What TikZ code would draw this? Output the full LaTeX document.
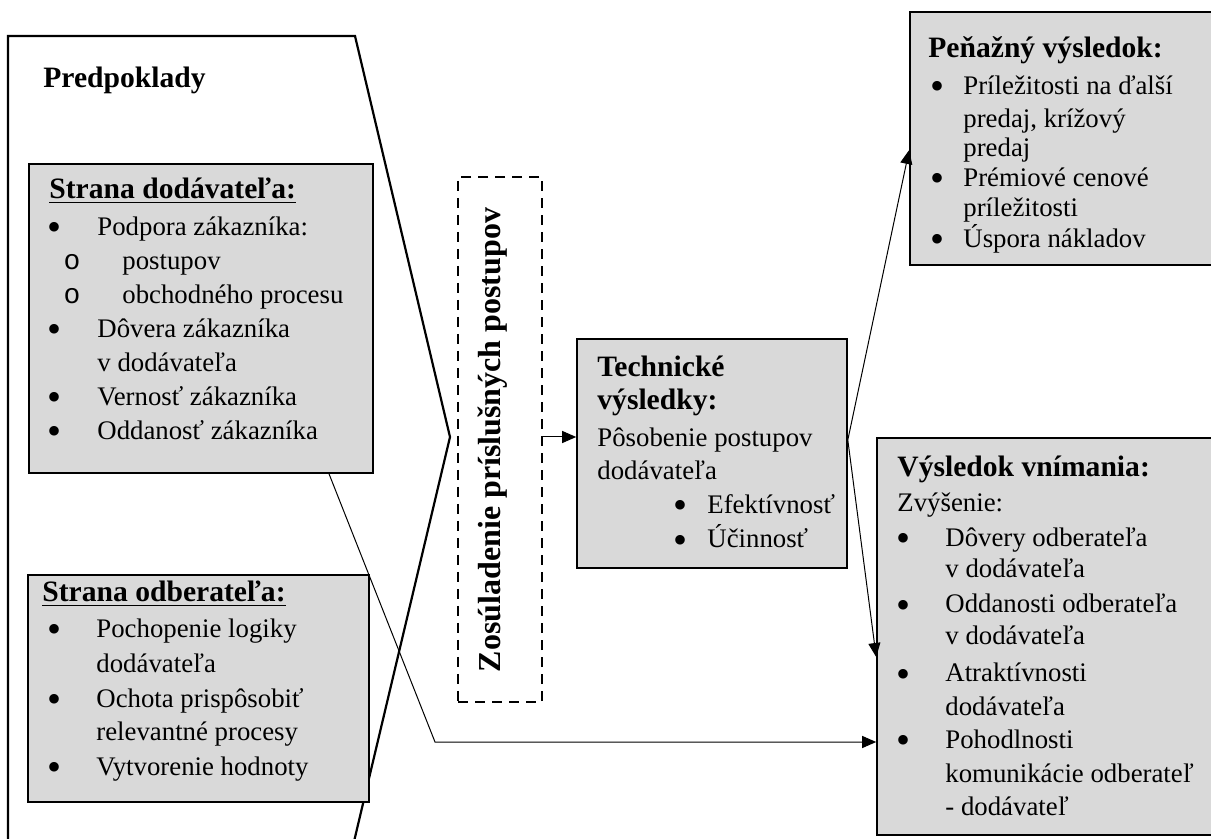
\documentclass[tikz,border=0pt]{standalone}
\usepackage{fontspec}
\setmainfont{Liberation Serif}
\newfontfamily\circfont{Liberation Mono}
\usetikzlibrary{arrows.meta,fit}
\definecolor{boxgray}{HTML}{D9D9D9}
\tikzset{
  txt/.style={anchor=base west, inner sep=0pt, font=\fontsize{13.4}{17}\selectfont},
  hd/.style={anchor=base west, inner sep=0pt, font=\bfseries\fontsize{14.8}{17}\selectfont},
  bul/.style={anchor=base, inner sep=0pt, yshift=-2.5pt, font=\fontsize{20}{17}\selectfont},
  sub/.style={anchor=base, inner sep=0pt, font=\circfont\fontsize{14}{17}\selectfont},
  box/.style={draw=black, line width=0.8pt, fill=boxgray, inner sep=0pt},
  dashbox/.style={draw=black, line width=0.9pt, dash pattern=on 5pt off 3.5pt, inner sep=0pt},
  outline/.style={draw=black, line width=1.1pt, line join=miter},
  conn/.style={draw=black, line width=0.5pt, -{Triangle[length=7pt,width=6pt]}},
}
\begin{document}
\begin{tikzpicture}[x=0.5pt,y=-0.5pt]
\useasboundingbox (0,0) rectangle (1211,839);

% outer "Predpoklady" shape
\draw[outline] (8,850) -- (8,36) -- (355,36) -- (450,437) -- (352,850);
\node[hd] (pred) at (43,88) {Predpoklady};

% boxes
\node[box, fit={(29,164)(373,473)}] (sup) {};
\node[box, fit={(28,575)(369,802)}] (cust) {};
\node[dashbox, fit={(458,177)(542,702)}] (dash) {};
\node[box, fit={(577,339)(847,568)}] (tech) {};
\node[box, fit={(910,12)(1218,265)}] (money) {};
\node[box, fit={(877,438)(1218,835)}] (perc) {};

% supplier side
\node[hd] (s0) at (49,199) {\underline{Strana dodávateľa:}};
\node[bul] (sb1) at (55,236) {•};
\node[txt] (s1) at (97,236) {Podpora zákazníka:};
\node[sub] (sb2) at (72,270) {o};
\node[txt] (s2) at (122,270) {postupov};
\node[sub] (sb3) at (72,304) {o};
\node[txt] (s3) at (122,304) {obchodného procesu};
\node[bul] (sb4) at (55,338) {•};
\node[txt] (s4) at (97,338) {Dôvera zákazníka};
\node[txt] (s5) at (97,372) {v dodávateľa};
\node[bul] (sb6) at (55,406) {•};
\node[txt] (s6) at (97,406) {Vernosť zákazníka};
\node[bul] (sb7) at (55,440) {•};
\node[txt] (s7) at (97,440) {Oddanosť zákazníka};

% customer side
\node[hd] (c0) at (42,602) {\underline{Strana odberateľa:}};
\node[bul] (cb1) at (55,638) {•};
\node[txt] (c1) at (96,638) {Pochopenie logiky};
\node[txt] (c2) at (96,673) {dodávateľa};
\node[bul] (cb3) at (55,707) {•};
\node[txt] (c3) at (96,707) {Ochota prispôsobiť};
\node[txt] (c4) at (96,740) {relevantné procesy};
\node[bul] (cb5) at (55,775) {•};
\node[txt] (c5) at (96,775) {Vytvorenie hodnoty};

% alignment (rotated)
\node[rotate=90, anchor=base, inner sep=0pt, font=\bfseries\fontsize{16}{18}\selectfont] (align) at (500,440) {Zosúladenie príslušných postupov};

% technical results
\node[hd] (t0) at (597,377) {Technické};
\node[hd] (t1) at (597,410) {výsledky:};
\node[txt] (t2) at (597,447) {Pôsobenie postupov};
\node[txt] (t3) at (597,480) {dodávateľa};
\node[bul] (tb4) at (680,514) {•};
\node[txt] (t4) at (707,514) {Efektívnosť};
\node[bul] (tb5) at (680,548) {•};
\node[txt] (t5) at (707,548) {Účinnosť};

% monetary result
\node[hd] (m0) at (928,58) {Peňažný výsledok:};
\node[bul] (mb1) at (937,95) {•};
\node[txt] (m1) at (963,95) {Príležitosti na ďalší};
\node[txt] (m2) at (963,128) {predaj, krížový};
\node[txt] (m3) at (963,157) {predaj};
\node[bul] (mb4) at (937,187) {•};
\node[txt] (m4) at (963,187) {Prémiové cenové};
\node[txt] (m5) at (963,217) {príležitosti};
\node[bul] (mb6) at (937,248) {•};
\node[txt] (m6) at (963,248) {Úspora nákladov};

% perception result
\node[hd] (p0) at (897,477) {Výsledok vnímania:};
\node[txt] (p1) at (897,512) {Zvýšenie:};
\node[bul] (pb2) at (903,547) {•};
\node[txt] (p2) at (945,547) {Dôvery odberateľa};
\node[txt] (p3) at (945,578) {v dodávateľa};
\node[bul] (pb4) at (903,613) {•};
\node[txt] (p4) at (945,613) {Oddanosti odberateľa};
\node[txt] (p5) at (945,645) {v dodávateľa};
\node[bul] (pb6) at (903,682) {•};
\node[txt] (p6) at (945,682) {Atraktívnosti};
\node[txt] (p7) at (945,715) {dodávateľa};
\node[bul] (pb8) at (903,748) {•};
\node[txt] (p8) at (945,748) {Pohodlnosti};
\node[txt] (p9) at (945,782) {komunikácie odberateľ};
\node[txt] (p10) at (945,815) {- dodávateľ};

% connectors
\coordinate (k1) at (542,437);
\draw[conn] (dash.east |- k1) -- (tech.west |- k1);
\coordinate (k2) at (848,440);
\coordinate (k3) at (911,150);
\coordinate (k4) at (878,657);
\draw[conn] (tech.east |- k2) -- (money.west |- k3);
\draw[conn] (tech.east |- k2) -- (perc.west |- k4);
\coordinate (k5) at (329,473);
\coordinate (k6) at (435,742);
\draw[conn] (sup.south -| k5) -- (k6) -- (perc.west |- k6);
\end{tikzpicture}
\end{document}
